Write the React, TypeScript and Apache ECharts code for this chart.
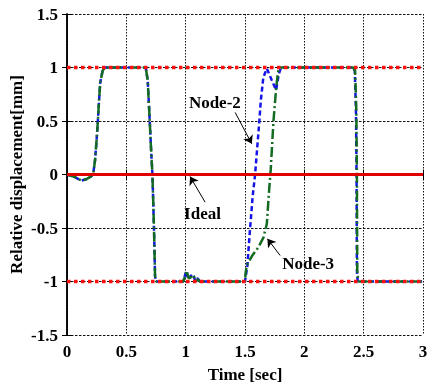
import React, { useEffect, useRef } from "react";
import * as echarts from "echarts";

const xTicks = { min: 0, max: 3, interval: 0.5 };
const yTicks = { min: -1.5, max: 1.5, interval: 0.5 };

const node2T = [0, 0.067, 0.1, 0.124, 0.16, 0.2, 0.22, 0.236, 0.25, 0.26, 0.27, 0.28, 0.3, 0.32, 0.34,
  0.65, 0.665, 0.68, 0.695, 0.71, 0.72, 0.733, 0.742, 0.75,
  0.98, 1.005, 1.02, 1.04, 1.06, 1.08, 1.1, 1.12,
  1.5, 1.52, 1.543, 1.565, 1.585, 1.621, 1.633, 1.655, 1.684, 1.726, 1.762, 1.785, 1.804,
  2.41, 2.425, 2.435, 2.44, 2.443, 2.45, 3.0];
const node2V = [0, -0.025, -0.045, -0.056, -0.045, -0.02, 0.0, 0.13, 0.33, 0.5, 0.69, 0.86, 0.97, 1.0, 1.0,
  1.0, 0.99, 0.88, 0.55, 0.2, 0.0, -0.5, -0.95, -1.0,
  -1.0, -0.9, -0.98, -0.95, -0.93, -0.99, -0.97, -1.0,
  -1.0, -0.85, -0.5, -0.2, 0.0, 0.5, 0.69, 0.91, 0.99, 0.88, 0.79, 0.94, 1.0,
  1.0, 0.97, 0.6, 0.0, -0.9, -1.0, -1.0];

const node3T = [0, 0.067, 0.1, 0.124, 0.16, 0.2, 0.22, 0.236, 0.25, 0.26, 0.27, 0.28, 0.3, 0.32, 0.34,
  0.65, 0.665, 0.68, 0.695, 0.71, 0.72, 0.733, 0.742, 0.75,
  0.98, 1.009, 1.025, 1.045, 1.065, 1.085, 1.1, 1.12,
  1.5, 1.505, 1.515, 1.56, 1.613, 1.655, 1.684, 1.703, 1.717, 1.74, 1.762, 1.775, 1.785,
  2.41, 2.428, 2.438, 2.443, 2.446, 2.455, 3.0];
const node3V = [0, -0.025, -0.045, -0.056, -0.045, -0.02, 0.0, 0.13, 0.33, 0.5, 0.69, 0.86, 0.97, 1.0, 1.0,
  1.0, 0.99, 0.88, 0.55, 0.2, 0.0, -0.5, -0.95, -1.0,
  -1.0, -0.9, -0.97, -0.96, -0.94, -0.99, -0.98, -1.0,
  -1.0, -0.92, -0.85, -0.76, -0.68, -0.59, -0.46, -0.15, 0.05, 0.5, 0.8, 0.93, 1.0,
  1.0, 0.97, 0.6, 0.0, -0.9, -1.0, -1.0];

const idealT = [0, 3];
const idealV = [0, 0];
const limitT = [0, 3];
const upperV = [1, 1];
const lowerV = [-1, -1];

// annotations in data coordinates
const labelTexts = ["Node-2", "Ideal", "Node-3"];
const labelPos = [[1.246, 0.676], [1.142, -0.367], [2.032, -0.832]];
const arrowFrom = [[1.417, 0.58], [1.164, -0.259], [1.796, -0.757]];
const arrowTo = [[1.557, 0.287], [1.037, -0.019], [1.689, -0.601]];

const zip = (a: number[], b: number[]) => a.map((v, i) => [v, b[i]]);

const FONT = "Liberation Serif";

export default function App() {
  const ref = useRef<HTMLDivElement>(null);
  useEffect(() => {
    if (!ref.current) return;
    const chart = echarts.init(ref.current, undefined, { renderer: "svg" });
    const grid = { left: 67, right: 7, top: 14, bottom: 55, containLabel: false, outerBoundsMode: "none" };
    const axisLine = { show: true, lineStyle: { color: "#000", width: 1.5 } };
    const tickInside = { show: true, inside: true, length: 5, lineStyle: { color: "#000", width: 1 } };
    const labelStyle = { fontFamily: FONT, fontWeight: "bold" as const, fontSize: 17, color: "#000" };
    chart.setOption({
      animation: false,
      grid,
      xAxis: [
        {
          type: "value", ...xTicks, position: "bottom",
          axisLine, axisTick: tickInside,
          axisLabel: { ...labelStyle, margin: 8 },
          splitLine: { show: true, lineStyle: { color: "#111", width: 1, type: [1.5, 1.5] } },
          name: "Time [sec]", nameLocation: "middle", nameGap: 31, nameMoveOverlap: false,
          nameTextStyle: { ...labelStyle },
        },
        {
          type: "value", ...xTicks, position: "top",
          axisLine, axisTick: tickInside, axisLabel: { show: false }, splitLine: { show: false },
        },
      ],
      yAxis: [
        {
          type: "value", ...yTicks, position: "left",
          axisLine, axisTick: tickInside,
          axisLabel: { ...labelStyle, margin: 9 },
          splitLine: { show: true, lineStyle: { color: "#111", width: 1, type: [2.5, 1.5] } },
          name: "Relative displacement[mm]", nameLocation: "middle", nameGap: 42, nameMoveOverlap: false,
          nameTextStyle: { ...labelStyle },
        },
        {
          type: "value", ...yTicks, position: "right",
          axisLine, axisTick: tickInside, axisLabel: { show: false }, splitLine: { show: false },
        },
      ],
      series: [
        {
          name: "Node-2", type: "line", data: zip(node2T, node2V), showSymbol: false, z: 2,
          lineStyle: { color: "#1414e6", width: 2.5, type: [5, 3] },
        },
        {
          name: "Node-3", type: "line", data: zip(node3T, node3V), showSymbol: false, z: 3,
          lineStyle: { color: "#136b22", width: 2.5, type: [10, 3, 2, 3] },
        },
        {
          name: "Ideal", type: "line", data: zip(idealT, idealV), showSymbol: false, z: 4,
          lineStyle: { color: "#e00000", width: 3 },
          markLine: {
            silent: true, symbol: ["none", "arrow"], symbolSize: 8,
            label: { show: false },
            lineStyle: { color: "#000", width: 1, type: "solid" },
            data: arrowFrom.map((f, i) => [{ coord: f }, { coord: arrowTo[i] }]),
          },
        },
        {
          name: "Upper", type: "line", data: zip(limitT, upperV), showSymbol: false, z: 5,
          lineStyle: { color: "#ff1010", width: 3.5, type: [3.5, 3.5] },
        },
        {
          name: "Lower", type: "line", data: zip(limitT, lowerV), showSymbol: false, z: 5,
          lineStyle: { color: "#ff1010", width: 3.5, type: [3.5, 3.5] },
        },
      ],
    });
    const texts = labelTexts.map((t, i) => {
      const p = chart.convertToPixel({ gridIndex: 0 }, labelPos[i]) as number[];
      return {
        type: "text", x: p[0], y: p[1], z: 10,
        style: {
          text: t, fontFamily: FONT, fontWeight: "bold", fontSize: 17, fill: "#000",
          textAlign: "center", textVerticalAlign: "middle",
        },
      };
    });
    chart.setOption({ graphic: texts });
    return () => chart.dispose();
  }, []);
  return <div ref={ref} style={{ position: "fixed", left: 0, top: 0, width: 430, height: 390 }} />;
}
